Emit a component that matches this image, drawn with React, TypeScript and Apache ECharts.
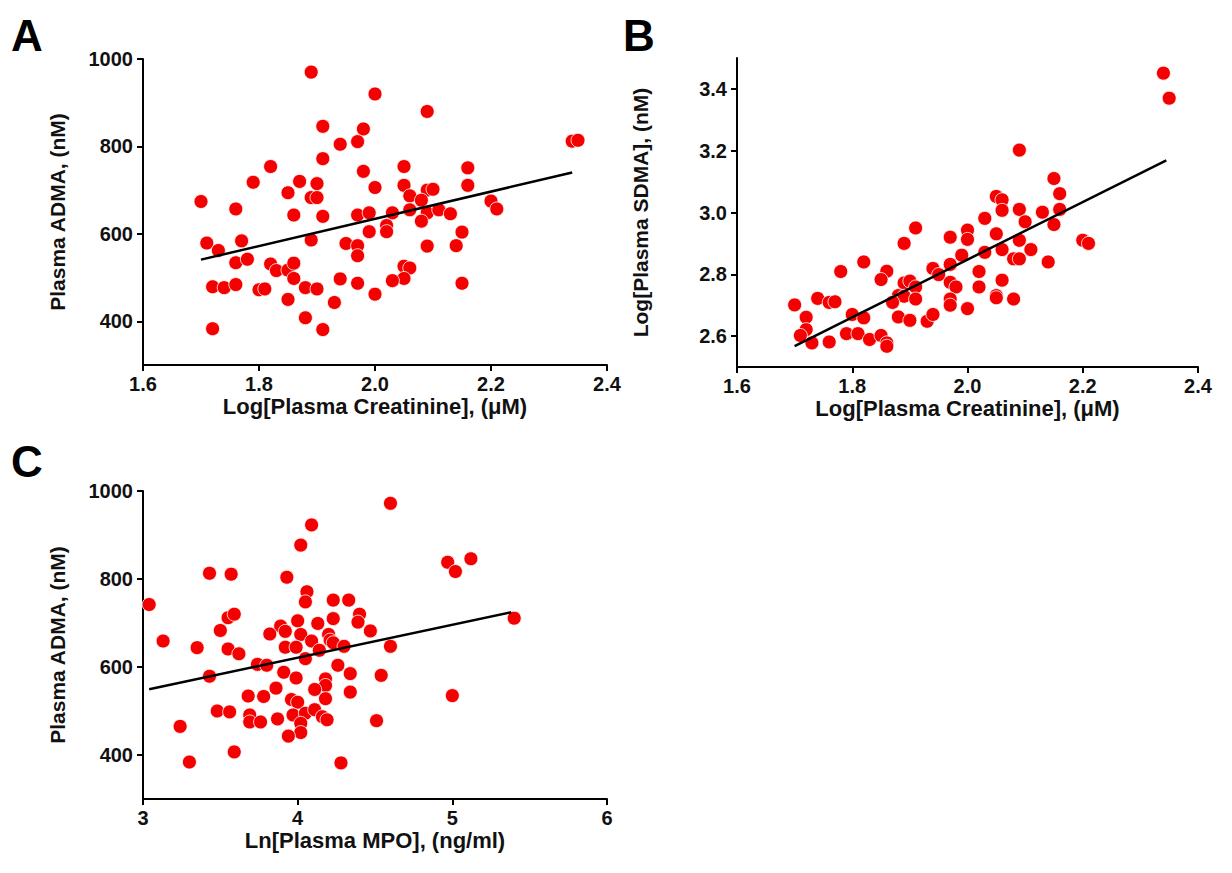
import React, { useEffect, useRef } from "react";
import * as echarts from "echarts";

// Panel A: plasma ADMA (nM) against log plasma creatinine (µM)
const creatinineA = [
  1.89, 2.0, 1.91, 1.98, 1.94, 1.97, 1.91, 1.82, 1.98, 1.79, 1.87, 1.9, 2.0, 1.85, 1.89, 1.9,
  1.7, 1.76, 1.86, 1.91, 1.97, 1.99, 1.99, 1.71, 1.73, 1.77, 1.89, 1.95, 1.97, 1.97, 1.76, 1.78,
  1.82, 1.83, 1.85, 1.86, 1.86, 1.72, 1.74, 1.76, 1.8, 1.81, 1.88, 1.9, 1.94, 1.97, 2.0, 1.85,
  1.93, 1.88, 1.72, 1.91, 2.09, 2.34, 2.35, 2.05, 2.16, 2.05, 2.06, 2.09, 2.1, 2.16, 2.08, 2.03,
  2.06, 2.09, 2.11, 2.13, 2.08, 2.2, 2.21, 2.02, 2.02, 2.15, 2.09, 2.14, 2.05, 2.06, 2.05, 2.03,
  2.15,
];
const admaA = [
  970, 920, 846, 840, 805, 811, 772, 754, 743, 718, 720, 715, 706, 694, 683, 683,
  674, 657, 643, 640, 643, 648, 605, 579, 562, 584, 586, 578, 573, 550, 534, 542,
  531, 516, 517, 533, 498, 479, 477, 484, 472, 474, 477, 474, 497, 487, 462, 450,
  443, 408, 383, 381, 880, 812, 814, 754, 751, 711, 687, 700, 702, 711, 677, 648,
  655, 648, 655, 646, 629, 675, 657, 619, 605, 604, 572, 573, 526, 522, 498, 493,
  487,
];

// Panel B: log plasma SDMA (nM) against log plasma creatinine (µM)
const creatinineB = [
  1.91, 1.89, 1.97, 1.99, 1.82, 1.78, 1.86, 1.85, 1.94, 1.95, 1.97, 1.89, 1.9, 1.91, 1.97, 1.98,
  1.7, 1.74, 1.76, 1.77, 1.88, 1.89, 1.87, 1.91, 1.97, 1.97, 1.72, 1.8, 1.82, 1.88, 1.9, 1.93,
  1.94, 1.72, 1.71, 1.73, 1.76, 1.79, 1.81, 1.83, 1.85, 1.86, 1.86, 2.34, 2.35, 2.09, 2.15, 2.16,
  2.05, 2.06, 2.06, 2.09, 2.13, 2.16, 2.03, 2.1, 2.15, 2.0, 2.0, 2.05, 2.09, 2.2, 2.21, 2.03,
  2.06, 2.11, 2.08, 2.09, 2.14, 2.02, 2.06, 2.02, 2.05, 2.05, 2.08, 2.0,
];
const sdmaB = [
  2.95, 2.9, 2.92, 2.862, 2.84, 2.809, 2.81, 2.783, 2.819, 2.799, 2.832, 2.772, 2.778, 2.759, 2.774, 2.759,
  2.701, 2.722, 2.709, 2.711, 2.731, 2.729, 2.709, 2.72, 2.72, 2.7, 2.661, 2.67, 2.659, 2.662, 2.651, 2.648,
  2.67, 2.621, 2.602, 2.578, 2.581, 2.608, 2.608, 2.589, 2.602, 2.578, 2.567, 3.451, 3.37, 3.202, 3.11, 3.061,
  3.052, 3.041, 3.007, 3.01, 3.001, 3.01, 2.981, 2.97, 2.961, 2.943, 2.913, 2.931, 2.91, 2.91, 2.9, 2.871,
  2.88, 2.88, 2.85, 2.85, 2.84, 2.809, 2.781, 2.759, 2.731, 2.724, 2.72, 2.689,
];

// Panel C: plasma ADMA (nM) against ln plasma MPO (ng/ml)
const mpoC = [
  4.09, 4.02, 3.43, 3.57, 3.93, 3.04, 4.06, 4.05, 4.23, 4.33, 3.55, 3.59, 3.89, 3.92, 4.0, 4.13,
  4.23, 4.4, 4.39, 4.47, 3.5, 3.82, 4.02, 4.2, 4.21, 4.23, 3.13, 3.35, 3.55, 3.92, 3.99, 4.09,
  4.14, 4.3, 3.62, 4.05, 3.74, 3.8, 4.26, 3.43, 3.91, 3.99, 4.34, 4.18, 4.18, 3.86, 4.11, 4.34,
  3.68, 3.78, 3.96, 4.0, 4.18, 3.48, 3.56, 3.69, 3.69, 3.76, 3.87, 3.97, 4.05, 4.02, 4.02, 4.11,
  4.16, 4.19, 3.94, 3.24, 3.3, 3.59, 4.28, 4.51, 4.6, 4.97, 5.12, 5.02, 4.6, 5.4, 4.54, 5.0,
];
const admaC = [
  923, 877, 813, 811, 804, 742, 771, 748, 752, 752, 712, 720, 693, 681, 705, 699,
  710, 720, 702, 682, 683, 675, 674, 674, 661, 655, 659, 644, 641, 645, 645, 659,
  638, 647, 630, 619, 606, 604, 604, 579, 588, 575, 585, 573, 558, 552, 549, 543,
  534, 533, 526, 520, 528, 500, 498, 491, 475, 475, 482, 491, 495, 472, 451, 503,
  487, 480, 443, 465, 384, 407, 382, 478, 972, 838, 846, 817, 647, 711, 581, 535,
];

// Linear regression fits: [intercept, slope] and the x span they are drawn over
const fitA = [11.45, 311.5];
const fitSpanA = [1.7, 2.34];
const fitB = [0.9835, 0.932];
const fitSpanB = [1.7, 2.345];
const fitC = [322.5, 74.7];
const fitSpanC = [3.04, 5.38];

// Tick values
const creatinineTicks = [1.6, 1.8, 2.0, 2.2, 2.4];
const admaTicks = [400, 600, 800, 1000];
const sdmaTicks = [2.6, 2.8, 3.0, 3.2, 3.4];
const mpoTicks = [3, 4, 5, 6];

const FONT = "'Liberation Sans', Arial, Helvetica, sans-serif";

const pairs = (xs: number[], ys: number[]) => xs.map((x, i) => [x, ys[i]]);
const fitLine = (fit: number[], span: number[]) =>
  span.map((x) => [x, fit[0] + fit[1] * x]);

function axis(
  gridIndex: number,
  min: number,
  max: number,
  ticks: number[],
  name: string,
  nameGap: number,
  nameSize: number,
  labelMargin: number,
  digits: number
) {
  return {
    type: "value",
    gridIndex,
    min,
    max,
    name,
    nameLocation: "middle",
    nameGap,
    nameMoveOverlap: false,
    nameTextStyle: { fontSize: nameSize, fontWeight: "bold", color: "#111", fontFamily: FONT },
    axisLine: { show: true, onZero: false, lineStyle: { color: "#000", width: 2 } },
    axisTick: {
      show: true,
      inside: false,
      length: 6,
      customValues: ticks,
      lineStyle: { color: "#000", width: 2 },
    },
    axisLabel: {
      show: true,
      customValues: ticks,
      fontSize: 20,
      fontWeight: "bold",
      color: "#111",
      fontFamily: FONT,
      margin: labelMargin,
      formatter: (v: number) => v.toFixed(digits),
    },
    splitLine: { show: false },
  };
}

const scatter = (idx: number, data: number[][]) => ({
  type: "scatter",
  xAxisIndex: idx,
  yAxisIndex: idx,
  data,
  symbol: "circle",
  symbolSize: 14,
  itemStyle: { color: "#f40000", borderColor: "#ffffff", borderWidth: 0.8, opacity: 1 },
  z: 2,
});

const line = (idx: number, data: number[][]) => ({
  type: "line",
  xAxisIndex: idx,
  yAxisIndex: idx,
  data,
  showSymbol: false,
  symbol: "none",
  lineStyle: { color: "#000", width: 2.5 },
  z: 3,
});

export default function App() {
  const ref = useRef<HTMLDivElement>(null);

  useEffect(() => {
    if (!ref.current) return;
    const chart = echarts.init(ref.current, undefined, { renderer: "svg" });
    chart.setOption({
      animation: false,
      backgroundColor: "#ffffff",
      grid: [
        { left: 143, top: 59, width: 464, height: 306, containLabel: false, outerBoundsMode: "none" },
        { left: 737, top: 58, width: 461, height: 309, containLabel: false, outerBoundsMode: "none" },
        { left: 143, top: 491, width: 464, height: 308, containLabel: false, outerBoundsMode: "none" },
      ],
      xAxis: [
        axis(0, 1.6, 2.4, creatinineTicks, "Log[Plasma Creatinine], (\u03BCM)", 30, 22, 9, 1),
        axis(1, 1.6, 2.4, creatinineTicks, "Log[Plasma Creatinine], (\u03BCM)", 30, 22, 9, 1),
        axis(2, 3, 6, mpoTicks, "Ln[Plasma MPO], (ng/ml)", 30, 22, 9, 0),
      ],
      yAxis: [
        axis(0, 300, 1000, admaTicks, "Plasma ADMA, (nM)", 75, 21, 10, 0),
        axis(1, 2.5, 3.5, sdmaTicks, "Log[Plasma SDMA], (nM)", 86, 21, 10, 1),
        axis(2, 300, 1000, admaTicks, "Plasma ADMA, (nM)", 75, 21, 10, 0),
      ],
      series: [
        scatter(0, pairs(creatinineA, admaA)),
        line(0, fitLine(fitA, fitSpanA)),
        scatter(1, pairs(creatinineB, sdmaB)),
        line(1, fitLine(fitB, fitSpanB)),
        scatter(2, pairs(mpoC, admaC)),
        line(2, fitLine(fitC, fitSpanC)),
      ],
      graphic: [
        { type: "text", left: 11, top: 13, style: { text: "A", font: `bold 44px ${FONT}`, fill: "#000" } },
        { type: "text", left: 623, top: 13, style: { text: "B", font: `bold 44px ${FONT}`, fill: "#000" } },
        { type: "text", left: 11, top: 439, style: { text: "C", font: `bold 44px ${FONT}`, fill: "#000" } },
      ],
    });
    return () => chart.dispose();
  }, []);

  return (
    <div
      ref={ref}
      style={{ position: "fixed", left: 0, top: 0, width: 1232, height: 873, background: "#fff" }}
    />
  );
}
